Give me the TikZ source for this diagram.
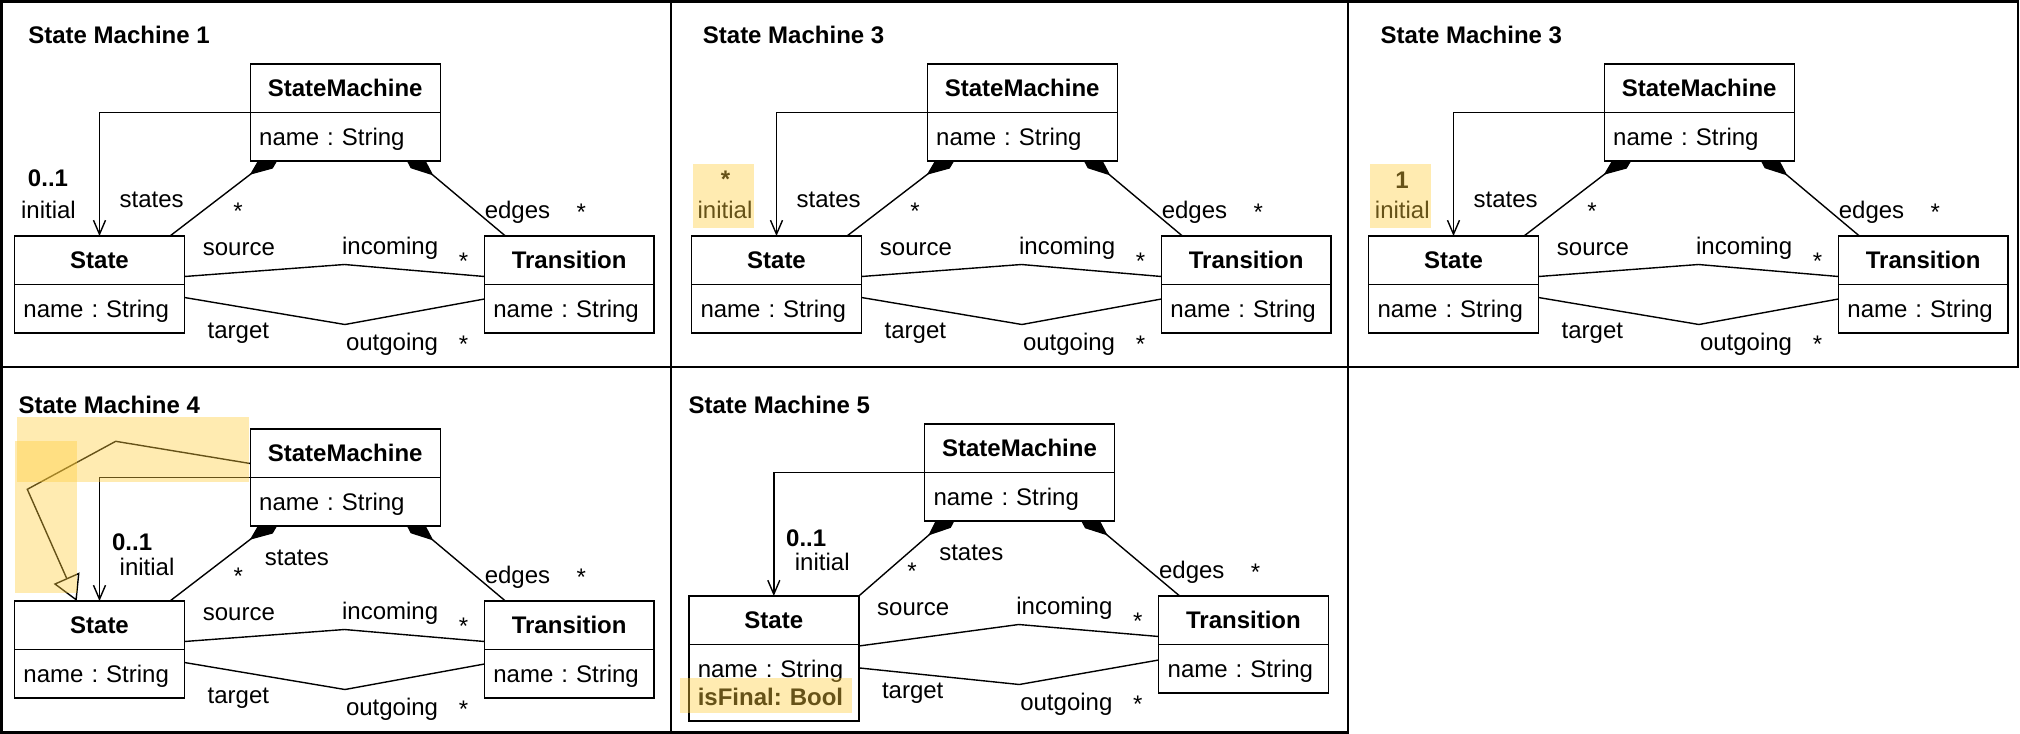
\documentclass[tikz,border=0pt,12pt]{standalone}
\usepackage{fontspec}
\setmainfont{Liberation Sans}
\frenchspacing
\usetikzlibrary{positioning, arrows.meta, calc, backgrounds}
\definecolor{hlyellow}{RGB}{255, 205, 60}

\begin{document}
\begin{tikzpicture}[x=0.5pt, y=-0.5pt,
    classhead/.style={draw, fill=white, line width=0.7pt, outer sep=0pt, inner sep=0pt, minimum width=#1, minimum height=24.25pt, anchor=north west, font=\bfseries},
    classattr/.style={draw, fill=white, line width=0.7pt, outer sep=0pt, inner xsep=4.5pt, inner ysep=0pt, text width=#1, text depth=0pt, align=left, minimum height=24.25pt},
    lbl/.style={inner sep=0pt, anchor=base west},
    mult/.style={inner sep=0pt, anchor=base, font=\bfseries},
    starlbl/.style={inner sep=0pt, anchor=base},
    paneltitle/.style={inner sep=0pt, anchor=base west, font=\bfseries},
    assocline/.style={line width=0.7pt},
    assoc/.style={line width=0.7pt, -{Straight Barb[length=7pt, width=6pt]}},
    compo/.style={line width=0.7pt, {Diamond[length=22pt, width=9pt]}-},
    inherit/.style={line width=0.7pt, -{Triangle[open, length=12.5pt, width=14pt]}},
    hilite/.style={fill=hlyellow, fill opacity=0.4},
    panelframe/.style={line width=1.1pt}
  ]
  \useasboundingbox (0,0) rectangle (2020,734);

  % panel grid
  \draw[panelframe] (1.5,1.5) rectangle (2018,367);
  \draw[panelframe] (1.5,367) rectangle (1348,732.5);
  \draw[panelframe] (671,1.5) -- (671,732.5);
  \draw[panelframe] (1348,1.5) -- (1348,367);

  \node[paneltitle] (T1) at (28,43.3) {State Machine 1};
  \node[paneltitle] (T2) at (702.5,43.3) {State Machine 3};
  \node[paneltitle] (T3) at (1380.3,43.3) {State Machine 3};
  \node[paneltitle] (T4) at (18.2,413.3) {State Machine 4};
  \node[paneltitle] (T5) at (688.2,413.3) {State Machine 5};

  % State Machine 1
  \begin{scope}
    \node[classhead=95pt] (SM1) at (250.2,64) {StateMachine};
    \node[classattr=86pt, below=0pt of SM1] (SM1a) {name : String};
    \node[classhead=85pt] (ST1) at (14.5,236) {State};
    \node[classattr=76pt, below=0pt of ST1] (ST1a) {name : String};
    \node[classhead=84.75pt] (TR1) at (484.4,236) {Transition};
    \node[classattr=75.75pt, below=0pt of TR1] (TR1a) {name : String};
    \begin{scope}[on background layer]
      \draw[assoc] (SM1.south west) -| (ST1.north);
      \draw[compo] ($(SM1a.south west)+(34.5,-13)$) -- ($(ST1.north east)+(-14.5,0)$);
      \draw[compo] ($(SM1a.south east)+(-40.5,-13.8)$) -- ($(TR1.north west)+(21,0)$);
      \draw[assocline] ($(ST1.south east)+(0,-8)$) -- ($(ST1.south east)!0.5!(TR1.south west)+(10,-20)$) -- ($(TR1.south west)+(0,-8)$);
      \draw[assocline] ($(ST1a.north east)+(0,13)$) -- ($(ST1.south east)!0.5!(TR1.south west)+(10.5,40)$) -- ($(TR1a.north west)+(0,14.5)$);
    \end{scope}
    \node[mult] (m1) at (48,186.7) {0..1};
    \node[lbl, anchor=base] (ini1) at (48.5,218.3) {initial};
    \node[lbl] (sts1) at (119.3,207.3) {states};
    \node[starlbl] (sts1m) at (238,219.5) {*};
    \node[lbl] (edg1) at (484.4,218.3) {edges};
    \node[starlbl] (edg1m) at (581.3,220.5) {*};
    \node[lbl] (src1) at (202.5,255) {source};
    \node[lbl] (inc1) at (341.7,254) {incoming};
    \node[starlbl] (inc1m) at (463.5,269) {*};
    \node[lbl] (tgt1) at (207.3,338) {target};
    \node[lbl] (out1) at (345.6,350.7) {outgoing};
    \node[starlbl] (out1m) at (463.5,352.5) {*};
  \end{scope}

  % State Machine 3 (many initial states)
  \begin{scope}[shift={(677,0)}]
    \node[classhead=95pt] (SM2) at (250.2,64) {StateMachine};
    \node[classattr=86pt, below=0pt of SM2] (SM2a) {name : String};
    \node[classhead=85pt] (ST2) at (14.5,236) {State};
    \node[classattr=76pt, below=0pt of ST2] (ST2a) {name : String};
    \node[classhead=84.75pt] (TR2) at (484.4,236) {Transition};
    \node[classattr=75.75pt, below=0pt of TR2] (TR2a) {name : String};
    \begin{scope}[on background layer]
      \draw[assoc] (SM2.south west) -| (ST2.north);
      \draw[compo] ($(SM2a.south west)+(34.5,-13)$) -- ($(ST2.north east)+(-14.5,0)$);
      \draw[compo] ($(SM2a.south east)+(-40.5,-13.8)$) -- ($(TR2.north west)+(21,0)$);
      \draw[assocline] ($(ST2.south east)+(0,-8)$) -- ($(ST2.south east)!0.5!(TR2.south west)+(10,-20)$) -- ($(TR2.south west)+(0,-8)$);
      \draw[assocline] ($(ST2a.north east)+(0,13)$) -- ($(ST2.south east)!0.5!(TR2.south west)+(10.5,40)$) -- ($(TR2a.north west)+(0,14.5)$);
    \end{scope}
    \node[mult] (m2) at (48.5,187.5) {*};
    \node[lbl, anchor=base] (ini2) at (48,218.3) {initial};
    \node[lbl] (sts2) at (119.3,207.3) {states};
    \node[starlbl] (sts2m) at (238,219.5) {*};
    \node[lbl] (edg2) at (484.4,218.3) {edges};
    \node[starlbl] (edg2m) at (581.3,220.5) {*};
    \node[lbl] (src2) at (202.5,255) {source};
    \node[lbl] (inc2) at (341.7,254) {incoming};
    \node[starlbl] (inc2m) at (463.5,269) {*};
    \node[lbl] (tgt2) at (207.3,338) {target};
    \node[lbl] (out2) at (345.6,350.7) {outgoing};
    \node[starlbl] (out2m) at (463.5,352.5) {*};
    \fill[hilite] (15.5,164) rectangle (76.7,227.7);
  \end{scope}

  % State Machine 3 (exactly one initial state)
  \begin{scope}[shift={(1354,0)}]
    \node[classhead=95pt] (SM3) at (250.2,64) {StateMachine};
    \node[classattr=86pt, below=0pt of SM3] (SM3a) {name : String};
    \node[classhead=85pt] (ST3) at (14.5,236) {State};
    \node[classattr=76pt, below=0pt of ST3] (ST3a) {name : String};
    \node[classhead=84.75pt] (TR3) at (484.4,236) {Transition};
    \node[classattr=75.75pt, below=0pt of TR3] (TR3a) {name : String};
    \begin{scope}[on background layer]
      \draw[assoc] (SM3.south west) -| (ST3.north);
      \draw[compo] ($(SM3a.south west)+(34.5,-13)$) -- ($(ST3.north east)+(-14.5,0)$);
      \draw[compo] ($(SM3a.south east)+(-40.5,-13.8)$) -- ($(TR3.north west)+(21,0)$);
      \draw[assocline] ($(ST3.south east)+(0,-8)$) -- ($(ST3.south east)!0.5!(TR3.south west)+(10,-20)$) -- ($(TR3.south west)+(0,-8)$);
      \draw[assocline] ($(ST3a.north east)+(0,13)$) -- ($(ST3.south east)!0.5!(TR3.south west)+(10.5,40)$) -- ($(TR3a.north west)+(0,14.5)$);
    \end{scope}
    \node[mult] (m3) at (48,188) {1};
    \node[lbl, anchor=base] (ini3) at (48.3,218.3) {initial};
    \node[lbl] (sts3) at (119.3,207.3) {states};
    \node[starlbl] (sts3m) at (238,219.5) {*};
    \node[lbl] (edg3) at (484.4,218.3) {edges};
    \node[starlbl] (edg3m) at (581.3,220.5) {*};
    \node[lbl] (src3) at (202.5,255) {source};
    \node[lbl] (inc3) at (341.7,254) {incoming};
    \node[starlbl] (inc3m) at (463.5,269) {*};
    \node[lbl] (tgt3) at (207.3,338) {target};
    \node[lbl] (out3) at (345.6,350.7) {outgoing};
    \node[starlbl] (out3m) at (463.5,352.5) {*};
    \fill[hilite] (15.5,164) rectangle (76.7,227.7);
  \end{scope}

  % State Machine 4 (state machine is a state)
  \begin{scope}[shift={(0,365)}]
    \node[classhead=95pt] (SM4) at (250.2,64) {StateMachine};
    \node[classattr=86pt, below=0pt of SM4] (SM4a) {name : String};
    \node[classhead=85pt] (ST4) at (14.5,236) {State};
    \node[classattr=76pt, below=0pt of ST4] (ST4a) {name : String};
    \node[classhead=84.75pt] (TR4) at (484.4,236) {Transition};
    \node[classattr=75.75pt, below=0pt of TR4] (TR4a) {name : String};
    \coordinate (G4a) at (115.7,76.3);
    \coordinate (G4b) at (27.3,124.3);
    \begin{scope}[on background layer]
      \draw[assoc] (SM4.south west) -| (ST4.north);
      \draw[inherit] ($(SM4.south west)+(0,-14)$) -- (G4a) -- (G4b) -- ($(ST4.north west)+(62.2,0)$);
      \draw[compo] ($(SM4a.south west)+(34.5,-13)$) -- ($(ST4.north east)+(-14.5,0)$);
      \draw[compo] ($(SM4a.south east)+(-40.5,-13.8)$) -- ($(TR4.north west)+(21,0)$);
      \draw[assocline] ($(ST4.south east)+(0,-8)$) -- ($(ST4.south east)!0.5!(TR4.south west)+(10,-20)$) -- ($(TR4.south west)+(0,-8)$);
      \draw[assocline] ($(ST4a.north east)+(0,13)$) -- ($(ST4.south east)!0.5!(TR4.south west)+(10.5,40)$) -- ($(TR4a.north west)+(0,14.5)$);
    \end{scope}
    \node[mult, anchor=base west] (m4) at (111.7,185.7) {0..1};
    \node[lbl] (ini4) at (119.3,210) {initial};
    \node[lbl] (sts4) at (264.5,200) {states};
    \node[starlbl] (sts4m) at (238.3,219.5) {*};
    \node[lbl] (edg4) at (484.4,218.3) {edges};
    \node[starlbl] (edg4m) at (581.3,220.5) {*};
    \node[lbl] (src4) at (202.5,255) {source};
    \node[lbl] (inc4) at (341.7,254) {incoming};
    \node[starlbl] (inc4m) at (463.5,269) {*};
    \node[lbl] (tgt4) at (207.3,338) {target};
    \node[lbl] (out4) at (345.6,350.7) {outgoing};
    \node[starlbl] (out4m) at (463.5,352.5) {*};
    \fill[hilite] (17.3,52.3) rectangle (249,116.7);
    \fill[hilite] (15,76) rectangle (77.3,228.3);
  \end{scope}

  % State Machine 5 (final states)
  \begin{scope}[shift={(674.3,360)}]
    \node[classhead=95pt] (SM5) at (250.2,64) {StateMachine};
    \node[classattr=86pt, below=0pt of SM5] (SM5a) {name : String};
    \node[classhead=85pt] (ST5) at (14.5,236) {State};
    \node[classattr=76pt, below=0pt of ST5, minimum height=38.2pt, text depth=13.6pt, font=\fontsize{12}{13.6}\selectfont] (ST5a) {name : String\\\textbf{isFinal: Bool}};
    \node[classhead=84.75pt] (TR5) at (484.4,236) {Transition};
    \node[classattr=75.75pt, below=0pt of TR5] (TR5a) {name : String};
    \begin{scope}[on background layer]
      \draw[assoc] (SM5.south west) -| (ST5.north);
      \draw[compo] ($(SM5a.south west)+(37,-14.4)$) -- (ST5.north east);
      \draw[compo] ($(SM5a.south east)+(-40.5,-13.8)$) -- ($(TR5.north west)+(21,0)$);
      \draw[assocline] ($(ST5a.north east)+(0,1.5)$) -- ($(ST5.south east)!0.5!(TR5.south west)+(10,-20)$) -- ($(TR5.south west)+(0,-8)$);
      \draw[assocline] ($(ST5a.north east)+(0,23.4)$) -- ($(ST5.south east)!0.5!(TR5.south west)+(10.5,40)$) -- ($(TR5a.north west)+(0,15.5)$);
    \end{scope}
    \node[mult, anchor=base west] (m5) at (111.5,186) {0..1};
    \node[lbl] (ini5) at (120.2,210) {initial};
    \node[lbl] (sts5) at (264.6,200) {states};
    \node[starlbl] (sts5m) at (237.7,219.4) {*};
    \node[lbl] (edg5) at (484.4,218.3) {edges};
    \node[starlbl] (edg5m) at (581.3,220.5) {*};
    \node[lbl] (src5) at (202.5,255) {source};
    \node[lbl] (inc5) at (341.7,254) {incoming};
    \node[starlbl] (inc5m) at (463.5,269) {*};
    \node[lbl] (tgt5) at (207.3,338) {target};
    \node[lbl] (out5) at (345.6,350.7) {outgoing};
    \node[starlbl] (out5m) at (463.5,352.5) {*};
    \fill[hilite] (5.2,318.3) rectangle (177.7,353.3);
  \end{scope}
\end{tikzpicture}
\end{document}
